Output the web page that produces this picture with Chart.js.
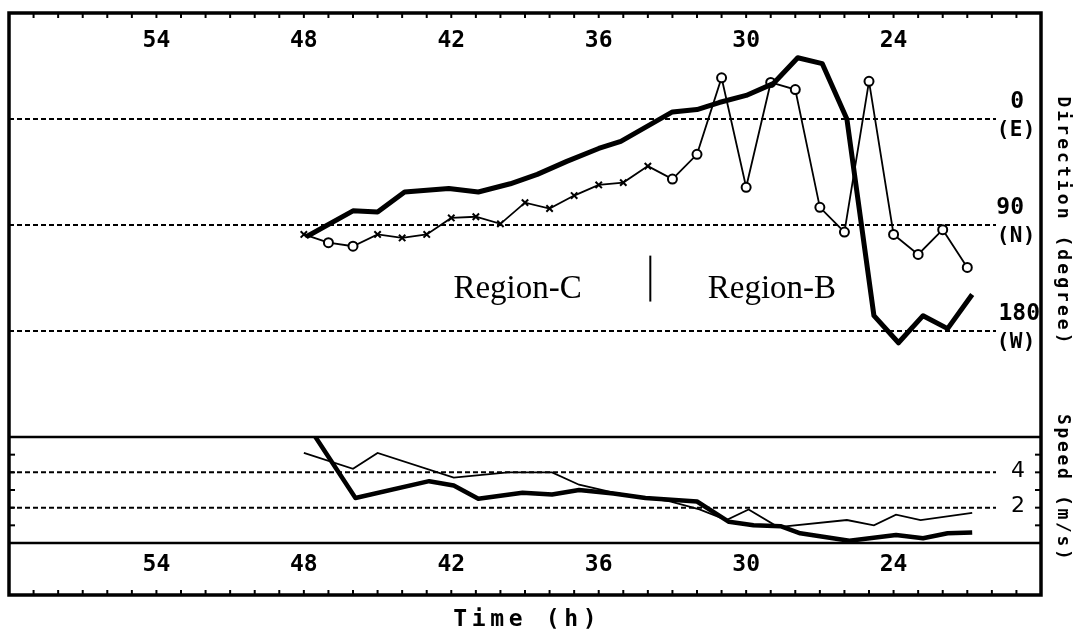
<!DOCTYPE html>
<html>
<head>
<meta charset="utf-8">
<script src="https://cdn.jsdelivr.net/npm/chart.js@4/dist/chart.umd.min.js"></script>
<style>
html, body { margin: 0; padding: 0; background: #fff; }
#wrap { width: 1076px; height: 639px; position: relative; }
</style>
</head>
<body>
<div id="wrap"><canvas id="windChart"></canvas></div>
<script>
// axis labels
const hourTicks = [54, 48, 42, 36, 30, 24];
const dirTicks = [0, 90, 180];
const dirTickNames = ['(E)', '(N)', '(W)'];
const speedTicks = [2, 4];
const regionNames = ['Region-C', 'Region-B'];
const regionHours = [39.3, 28.95];
const regionSplitHour = 33.9;

// wind direction, thin line (hourly, x / o markers)
const dirThinHours = [48, 47, 46, 45, 44, 43, 42, 41, 40, 39, 38, 37, 36, 35, 34, 33, 32, 31, 30, 29, 28, 27, 26, 25, 24, 23, 22, 21];
const dirThinValues = [98, 105, 108, 98, 101, 98, 84, 83, 89, 71, 76, 65, 56, 54, 40, 51, 30, -35, 58, -31, -25, 75, 96, -32, 98, 115, 94, 126];

// wind direction, thick line
const dirThickHours = [47.9, 46, 45, 43.9, 42.1, 40.9, 39.6, 38.5, 37.3, 36, 35.1, 33, 32, 31.1, 30, 28.9, 27.9, 26.9, 25.9, 24.8, 23.8, 22.8, 21.8, 20.8];
const dirThickValues = [100, 78, 79, 62, 59, 62, 55, 47, 36, 25, 19, -6, -8, -14, -20, -30, -52, -47, 0, 167, 190, 167, 178, 149];

// wind speed (m/s)
const speedThinHours = [48, 46, 45, 41.9, 39.7, 37.9, 36.8, 35.4, 33.1, 31.9, 30.8, 29.9, 28.7, 25.9, 24.8, 23.9, 22.9, 20.8];
const speedThinValues = [5.1, 4.2, 5.1, 3.7, 4.0, 4.0, 3.3, 2.85, 2.35, 1.9, 1.3, 1.9, 0.9, 1.3, 1.0, 1.6, 1.3, 1.7];
const speedThickHours = [48, 45.9, 42.9, 41.9, 40.9, 39.1, 37.9, 36.8, 35.4, 34.1, 32, 30.7, 29.7, 28.6, 27.8, 25.8, 23.9, 22.8, 21.8, 20.8];
const speedThickValues = [7.0, 2.55, 3.5, 3.25, 2.5, 2.85, 2.75, 3.0, 2.8, 2.55, 2.35, 1.2, 1.0, 0.95, 0.55, 0.13, 0.45, 0.27, 0.55, 0.6];

const toPoints = (hours, values) => hours.map((h, i) => ({ x: h, y: values[i] }));

const MONO = '"DejaVu Sans Mono", "Liberation Mono", monospace';
const BAND = 52; // strip under the speed panel holding the hour labels

const line = (ctx, x1, y1, x2, y2) => {
    ctx.beginPath();
    ctx.moveTo(x1, y1);
    ctx.lineTo(x2, y2);
    ctx.stroke();
};

// draws characters one by one with a fixed advance (letter-spaced titles)
const spacedText = (ctx, text, x, y, advance) => {
    const start = x - (text.length - 1) * advance / 2;
    [...text].forEach((ch, i) => ctx.fillText(ch, start + i * advance, y));
};

const panelDecor = {
    id: 'panelDecor',
    beforeDatasetsDraw(chart) {
        const { ctx, chartArea: a, scales: { yDir, ySpd } } = chart;
        ctx.save();
        ctx.strokeStyle = '#000';
        ctx.lineWidth = 2;
        ctx.setLineDash([5, 3]);
        const gridEnd = a.right - 45;
        dirTicks.forEach(v => {
            const y = yDir.getPixelForValue(v);
            line(ctx, a.left, y, gridEnd, y);
        });
        speedTicks.forEach(v => {
            const y = ySpd.getPixelForValue(v);
            line(ctx, a.left, y, gridEnd, y);
        });
        ctx.restore();
    },
    afterDatasetsDraw(chart) {
        const { ctx, chartArea: a, scales: { x, yDir, ySpd } } = chart;
        const bottom = a.bottom + BAND;
        ctx.save();
        ctx.strokeStyle = '#000';
        ctx.fillStyle = '#000';

        // outer frame and panel separators
        ctx.lineWidth = 3.5;
        ctx.strokeRect(a.left, a.top, a.right - a.left, bottom - a.top);
        ctx.lineWidth = 2.5;
        line(ctx, a.left, yDir.bottom, a.right, yDir.bottom);
        line(ctx, a.left, a.bottom, a.right, a.bottom);

        // hourly tick marks on top and bottom edges
        ctx.lineWidth = 2;
        for (let h = Math.ceil(x.min) + 1; h < x.max; h++) {
            const px = x.getPixelForValue(h);
            line(ctx, px, a.top, px, a.top + 5);
            line(ctx, px, bottom, px, bottom - 5);
        }
        // speed ticks every 1 m/s on both sides
        for (let v = 1; v < ySpd.max; v++) {
            const py = ySpd.getPixelForValue(v);
            line(ctx, a.left, py, a.left + 6, py);
            line(ctx, a.right - 6, py, a.right, py);
        }

        // hour labels (inside top of direction panel and in bottom strip)
        ctx.font = 'bold 23px ' + MONO;
        ctx.textAlign = 'center';
        ctx.textBaseline = 'middle';
        hourTicks.forEach(h => {
            const px = x.getPixelForValue(h);
            ctx.fillText(String(h), px, a.top + 28);
            ctx.fillText(String(h), px, a.bottom + 22);
        });

        // direction labels near the right edge
        dirTicks.forEach((v, i) => {
            const py = yDir.getPixelForValue(v);
            const label = String(v);
            ctx.font = 'bold 23px ' + MONO;
            ctx.textAlign = 'right';
            ctx.fillText(label, a.right - (label.length > 2 ? 1 : 17), py - 17);
            ctx.font = 'bold 21px ' + MONO;
            ctx.textAlign = 'center';
            spacedText(ctx, dirTickNames[i], a.right - 25, py + 12, 13);
        });

        // speed labels
        ctx.font = '22px "DejaVu Sans", sans-serif';
        ctx.textAlign = 'right';
        speedTicks.forEach(v => {
            ctx.fillText(String(v), a.right - 16, ySpd.getPixelForValue(v) - 1);
        });

        // axis titles
        ctx.textAlign = 'center';
        ctx.font = 'bold 23px ' + MONO;
        spacedText(ctx, 'Time (h)', (a.left + a.right) / 2, bottom + 25, 18.5);
        ctx.font = 'bold 18px ' + MONO;
        const tx = a.right + 22;
        ctx.save();
        ctx.translate(tx, (yDir.top + 82 + yDir.top + 332) / 2);
        ctx.rotate(Math.PI / 2);
        spacedText(ctx, 'Direction (degree)', 0, 0, 13.9);
        ctx.restore();
        ctx.save();
        ctx.translate(tx, ySpd.getPixelForValue(3) - 3);
        ctx.rotate(Math.PI / 2);
        spacedText(ctx, 'Speed (m/s)', 0, 0, 13.5);
        ctx.restore();

        // region annotation
        ctx.font = '33px "Liberation Serif", "Times New Roman", serif';
        ctx.textAlign = 'center';
        ctx.textBaseline = 'alphabetic';
        regionNames.forEach((name, i) => {
            ctx.fillText(name, x.getPixelForValue(regionHours[i]), yDir.getPixelForValue(152));
        });
        ctx.lineWidth = 2;
        const sx = x.getPixelForValue(regionSplitHour);
        line(ctx, sx, yDir.getPixelForValue(116), sx, yDir.getPixelForValue(155));
        ctx.restore();
    }
};

const thinMarker = (ctx) => {
    const h = ctx.raw ? ctx.raw.x : 0;
    return (h <= 33 || h === 47 || h === 46) ? 'circle' : 'crossRot';
};

new Chart(document.getElementById('windChart'), {
    type: 'line',
    data: {
        datasets: [
            {
                label: 'Direction (thick)',
                data: toPoints(dirThickHours, dirThickValues),
                yAxisID: 'yDir',
                borderColor: '#000',
                borderWidth: 5,
                borderJoinStyle: 'round',
                pointRadius: 0,
                tension: 0
            },
            {
                label: 'Direction (thin)',
                data: toPoints(dirThinHours, dirThinValues),
                yAxisID: 'yDir',
                borderColor: '#000',
                borderWidth: 1.8,
                pointStyle: thinMarker,
                pointRadius: 4.5,
                pointBorderWidth: 2,
                pointBorderColor: '#000',
                pointBackgroundColor: '#fff',
                tension: 0
            },
            {
                // scale area clipping keeps the first value inside the speed panel
                label: 'Speed (thick)',
                data: toPoints(speedThickHours, speedThickValues),
                yAxisID: 'ySpd',
                borderColor: '#000',
                borderWidth: 4.5,
                borderJoinStyle: 'round',
                pointRadius: 0,
                tension: 0
            },
            {
                label: 'Speed (thin)',
                data: toPoints(speedThinHours, speedThinValues),
                yAxisID: 'ySpd',
                borderColor: '#000',
                borderWidth: 1.8,
                pointRadius: 0,
                tension: 0
            }
        ]
    },
    options: {
        animation: false,
        responsive: true,
        maintainAspectRatio: false,
        layout: { padding: { left: 9, top: 13, right: 35, bottom: 96 } },
        plugins: { legend: { display: false }, tooltip: { enabled: false } },
        scales: {
            x: { type: 'linear', min: 18, max: 60, reverse: true, display: false },
            yDir: { type: 'linear', position: 'right', min: -90, max: 270, reverse: true, stack: 'panels', stackWeight: 4, display: false },
            ySpd: { type: 'linear', position: 'right', min: 0, max: 6, stack: 'panels', stackWeight: 1, display: false }
        }
    },
    plugins: [panelDecor]
});
</script>
</body>
</html>
